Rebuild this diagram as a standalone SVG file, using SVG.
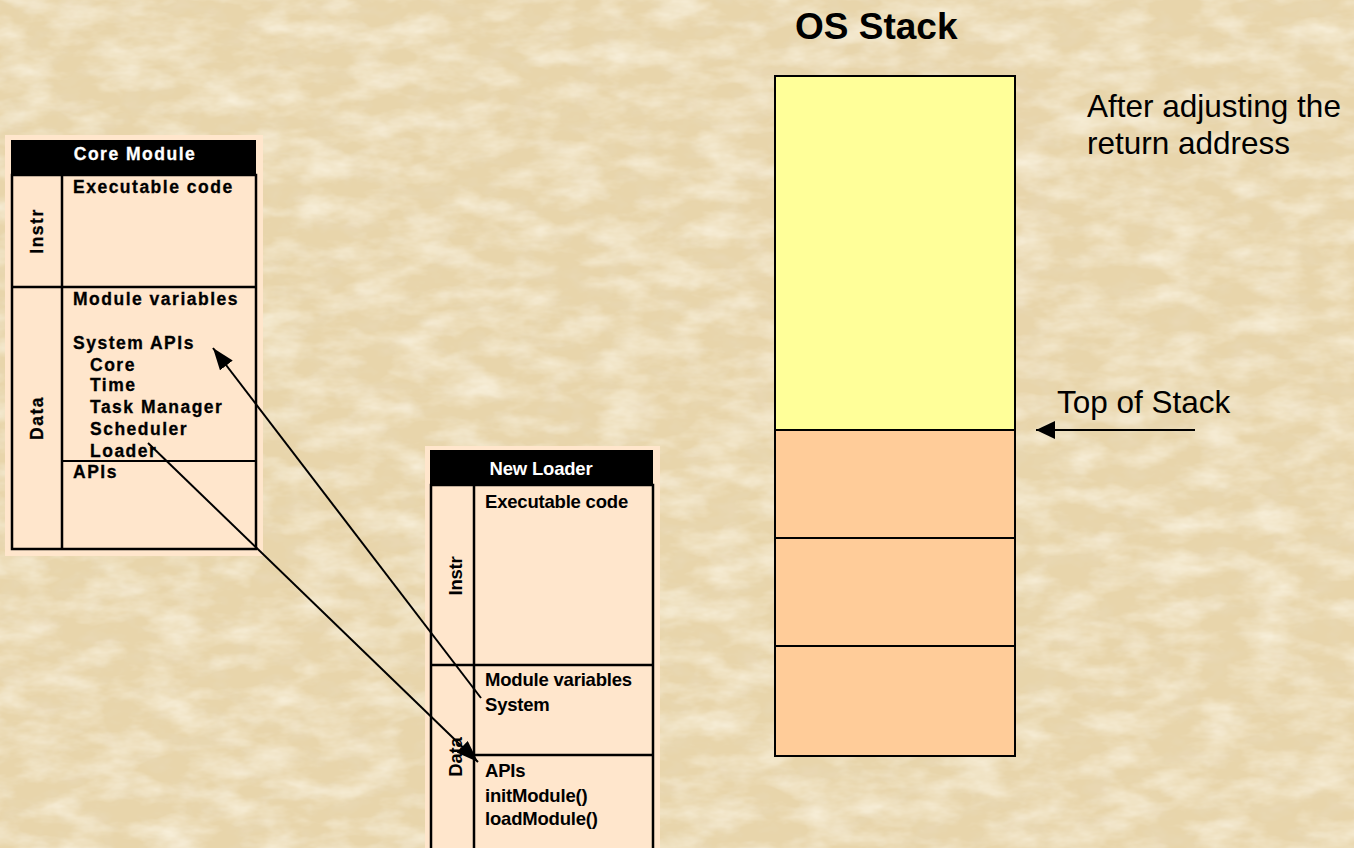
<svg xmlns="http://www.w3.org/2000/svg" width="1354" height="848" viewBox="0 0 1354 848">
  <style>
    .panel { fill: #FFE6CC; }
    .cell { fill: none; stroke: #000; stroke-width: 2.5; }
    .rule { stroke: #000; stroke-width: 2.5; }
    .thin { stroke: #000; stroke-width: 2; }
    .core { font-family: "Liberation Sans", Arial, sans-serif; font-weight: bold; font-size: 17.5px; letter-spacing: 1.5px; fill: #000; stroke: #000; stroke-width: 0.3px; }
    .core.head { fill: #fff; stroke: #fff; }
    .loader { font-family: "Liberation Sans", Arial, sans-serif; font-weight: bold; font-size: 18.5px; letter-spacing: -0.2px; fill: #000; }
    .loader.head { fill: #fff; }
    .big { font-family: "Liberation Sans", Arial, sans-serif; font-size: 31.5px; fill: #000; }
    .title { font-family: "Liberation Sans", Arial, sans-serif; font-weight: bold; font-size: 37px; fill: #000; }
    .link { stroke: #000; stroke-width: 2; fill: none; }
    .slot { stroke: #000; stroke-width: 2; }
  </style>
  <defs>
    <marker id="head" markerUnits="userSpaceOnUse" markerWidth="24" markerHeight="18" refX="22" refY="8" orient="auto">
      <path d="M0,0 L22,8 L0,16 z" fill="#000"/>
    </marker>
    <marker id="headWide" markerUnits="userSpaceOnUse" markerWidth="22" markerHeight="20" refX="19" refY="9" orient="auto">
      <path d="M0,0 L19,9 L0,18 z" fill="#000"/>
    </marker>
    <filter id="light" x="0" y="0" width="100%" height="100%">
      <feTurbulence type="fractalNoise" baseFrequency="0.02 0.045" numOctaves="4" seed="7"/>
      <feColorMatrix type="matrix" values="0 0 0 0 0.99  0 0 0 0 0.95  0 0 0 0 0.84  0 0 0 1.3 -0.5"/>
    </filter>
    <filter id="dark" x="0" y="0" width="100%" height="100%">
      <feTurbulence type="fractalNoise" baseFrequency="0.035 0.06" numOctaves="3" seed="19"/>
      <feColorMatrix type="matrix" values="0 0 0 0 0.82  0 0 0 0 0.71  0 0 0 0 0.52  0 0 0 1.1 -0.5"/>
    </filter>
  </defs>

  <!-- parchment background -->
  <rect width="1354" height="848" fill="#E8D5AB"/>
  <rect width="1354" height="848" filter="url(#dark)"/>
  <rect width="1354" height="848" filter="url(#light)"/>

  <!-- Core Module table -->
  <g id="core-module">
    <rect class="panel" x="5" y="135" width="258" height="421"/>
    <rect x="11" y="140" width="245" height="35" fill="#000"/>
    <text class="core head" x="135" y="160" text-anchor="middle">Core Module</text>
    <rect class="cell" x="12" y="175" width="244" height="374"/>
    <line class="rule" x1="62" y1="175" x2="62" y2="549"/>
    <line class="rule" x1="12" y1="287" x2="256" y2="287"/>
    <line class="thin" x1="62" y1="461" x2="256" y2="461"/>
    <text class="core" transform="translate(43,231) rotate(-90)" text-anchor="middle">Instr</text>
    <text class="core" transform="translate(43,418) rotate(-90)" text-anchor="middle">Data</text>
    <text class="core" x="73" y="193">Executable code</text>
    <text class="core" x="73" y="305">Module variables</text>
    <text class="core" x="73" y="349">System APIs</text>
    <text class="core" x="90" y="371">Core</text>
    <text class="core" x="90" y="391">Time</text>
    <text class="core" x="90" y="413">Task Manager</text>
    <text class="core" x="90" y="435">Scheduler</text>
    <text class="core" x="90" y="457">Loader</text>
    <text class="core" x="73" y="478">APIs</text>
  </g>

  <!-- New Loader table -->
  <g id="new-loader">
    <rect class="panel" x="425" y="446" width="235" height="402"/>
    <rect x="430" y="450" width="223" height="35" fill="#000"/>
    <text class="loader head" x="541" y="475" text-anchor="middle">New Loader</text>
    <rect class="cell" x="431" y="485" width="222" height="380"/>
    <line class="rule" x1="474" y1="485" x2="474" y2="848"/>
    <line class="rule" x1="431" y1="665" x2="653" y2="665"/>
    <line class="rule" x1="474" y1="755" x2="653" y2="755"/>
    <text class="loader" transform="translate(462,576) rotate(-90)" text-anchor="middle">Instr</text>
    <text class="loader" transform="translate(462,757) rotate(-90)" text-anchor="middle">Data</text>
    <text class="loader" x="485" y="508">Executable code</text>
    <text class="loader" x="485" y="686">Module variables</text>
    <text class="loader" x="485" y="711">System</text>
    <text class="loader" x="485" y="777">APIs</text>
    <text class="loader" x="485" y="802">initModule()</text>
    <text class="loader" x="485" y="825">loadModule()</text>
  </g>

  <!-- OS stack -->
  <g id="os-stack">
    <text class="title" x="795" y="39">OS Stack</text>
    <rect x="775" y="76" width="240" height="354" fill="#FFFF99" class="slot"/>
    <rect x="775" y="430" width="240" height="108" fill="#FFCC99" class="slot"/>
    <rect x="775" y="538" width="240" height="108" fill="#FFCC99" class="slot"/>
    <rect x="775" y="646" width="240" height="110" fill="#FFCC99" class="slot"/>
  </g>

  <g id="note">
    <text class="big" x="1087" y="117">After adjusting the</text>
    <text class="big" x="1087" y="154">return address</text>
  </g>

  <g id="top-label">
    <text class="big" x="1057" y="413">Top of Stack</text>
  </g>

  <!-- connectors -->
  <g id="connectors">
    <line class="link" x1="481" y1="698" x2="213" y2="348" marker-end="url(#head)"/>
    <line class="link" x1="148" y1="443" x2="478" y2="762" marker-end="url(#head)"/>
    <line class="link" x1="1195" y1="430" x2="1036" y2="430" marker-end="url(#headWide)"/>
  </g>
</svg>
